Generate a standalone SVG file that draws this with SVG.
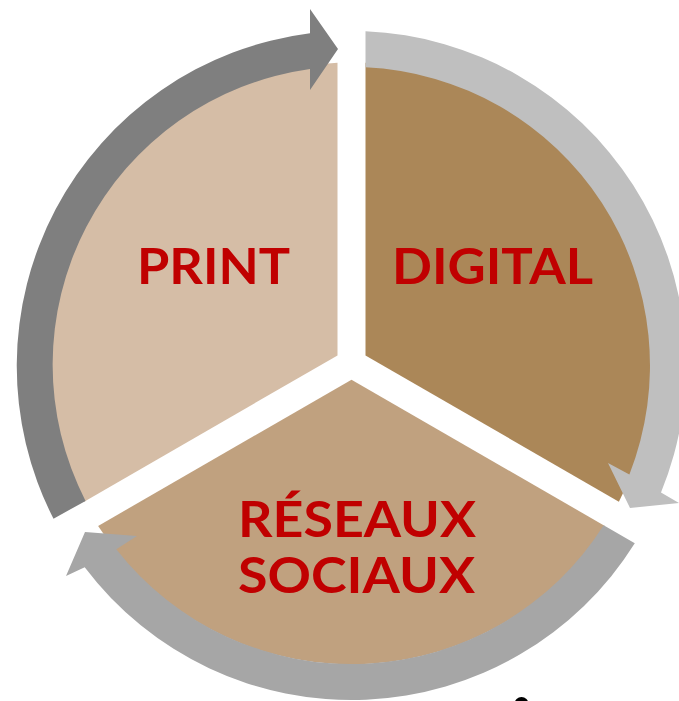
<svg xmlns="http://www.w3.org/2000/svg" width="679" height="701" viewBox="0 0 679 701">
  <style>
    .lbl { font-family: Lato, "Open Sans", "Liberation Sans", sans-serif; font-weight: bold; font-size: 50px; fill: #c00000; }
  </style>
  <rect x="0" y="0" width="679" height="701" fill="#ffffff"/>
  <g id="node-print">
    <path d="M 337.5 355.4 L 337.5 62.8 A 301 301 0 0 0 84.12 501.71 Z" fill="#d5bda6"/>
    <text class="lbl" x="137" y="284" textLength="153" lengthAdjust="spacingAndGlyphs">PRINT</text>
  </g>
  <g id="node-digital">
    <path d="M 365.5 355.4 L 365.5 62.8 A 301 301 0 0 1 618.88 501.71 Z" fill="#ab8758"/>
    <text class="lbl" x="392" y="283.5" textLength="201" lengthAdjust="spacingAndGlyphs">DIGITAL</text>
  </g>
  <g id="node-social">
    <path d="M 351.5 379.7 L 604.88 525.95 A 301 301 0 0 1 98.12 525.95 Z" fill="#c0a17f"/>
    <text class="lbl" x="238" y="537" textLength="238" lengthAdjust="spacingAndGlyphs">RÉSEAUX</text>
    <text class="lbl" x="238" y="593" textLength="237" lengthAdjust="spacingAndGlyphs">SOCIAUX</text>
  </g>
  <g id="connectors">
    <path id="arrow-print-digital" d="M 53.5 518.7 A 335.5 335.5 0 0 1 310 33.2 L 310 9 L 338 49 L 310 90 L 310 69 A 298.5 298.5 0 0 0 85.54 500.9 Z" fill="#7f7f7f"/>
    <path id="arrow-digital-social" d="M 365.5 31.3 A 334.5 334.5 0 0 1 661 492.4 L 679 503 L 630 508 L 608 463 L 629.4 474.4 A 298.5 298.5 0 0 0 365.5 67.3 Z" fill="#bfbfbf"/>
    <path id="arrow-social-print" d="M 634.8 543.3 A 334.5 334.5 0 0 1 84.7 567.3 L 66 576 L 85 532 L 137 536 L 116.3 549.3 A 298.5 298.5 0 0 0 603.65 525.25 Z" fill="#a6a6a6"/>
  </g>
  <ellipse cx="521.5" cy="704" rx="7" ry="7" fill="#000000"/>
</svg>
